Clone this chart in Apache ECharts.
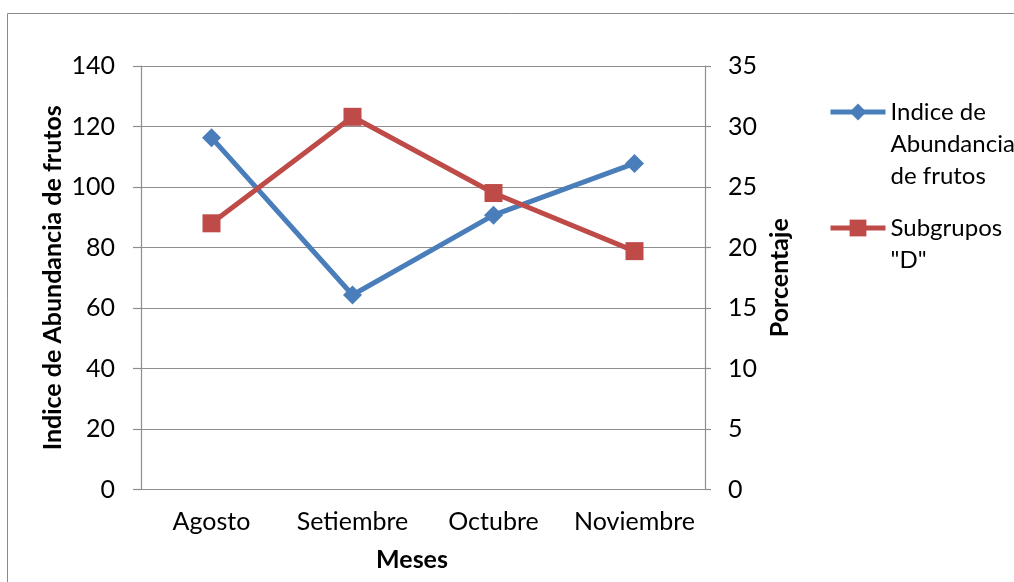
<!DOCTYPE html>
<html>
<head>
<meta charset="utf-8">
<script src="https://cdn.jsdelivr.net/npm/echarts@6/dist/echarts.min.js"></script>
<style>
  html, body { margin: 0; padding: 0; background: #fff; }
  #chart { width: 1014px; height: 582px; }
</style>
</head>
<body>
<div id="chart"></div>
<script>
// Months on the category axis
const meses = ['Agosto', 'Setiembre', 'Octubre', 'Noviembre'];
// Fruit abundance index (left axis)
const indiceAbundancia = [116.3, 64.3, 90.7, 107.8];
// Percentage of subgroup "D" (right axis)
const subgruposD = [22.0, 30.8, 24.5, 19.7];

const nombreIndice = 'Indice de\nAbundancia\nde frutos';
const nombreSubgrupos = 'Subgrupos\n"D"';

const FONT = 'Lato';
const FONT_SIZE = 25;
const GRID_COLOR = '#8e8e8e';
const BLUE = '#4a7ebb';
const RED = '#be4b48';

const chart = echarts.init(document.getElementById('chart'), null, { renderer: 'canvas' });

// Legend entries keep the marker level with the first text line:
// blank lines are prepended so the block's middle line is the first real one.
const alignFirstLine = (name) => {
  const n = name.split('\n').length;
  return '\n'.repeat(n - 1) + name;
};

const legendBase = {
  orient: 'vertical',
  left: 828,
  padding: 0,
  itemWidth: 55,
  itemHeight: 21,
  itemGap: 4,
  formatter: alignFirstLine,
  lineStyle: { width: 5 },
  textStyle: { color: '#000', fontFamily: FONT, fontSize: 24, lineHeight: 32 }
};

const titleStyle = { fontFamily: FONT, fontSize: FONT_SIZE, fontWeight: 'bold', color: '#000' };
const labelStyle = { color: '#000', fontFamily: FONT, fontSize: FONT_SIZE };

chart.setOption({
  animation: false,
  backgroundColor: '#fff',
  textStyle: { fontFamily: FONT },
  graphic: [{
    type: 'rect',
    silent: true,
    shape: { x: 7.5, y: 13.5, width: 1100, height: 700 },
    style: { fill: 'none', stroke: '#8a8a8a', lineWidth: 1 }
  }],
  grid: { left: 141, right: 309, top: 66, bottom: 92.5, containLabel: false },
  legend: [
    Object.assign({}, legendBase, { data: [nombreIndice], top: 32 }),
    Object.assign({}, legendBase, { data: [nombreSubgrupos], top: 180 })
  ],
  xAxis: {
    type: 'category',
    data: meses,
    boundaryGap: true,
    name: 'Meses',
    nameLocation: 'middle',
    nameGap: 58,
    nameMoveOverlap: false,
    nameTextStyle: Object.assign({ padding: [0, 22, 0, 0] }, titleStyle),
    axisLine: { show: true, lineStyle: { color: GRID_COLOR, width: 1.2 } },
    axisTick: { show: false },
    axisLabel: Object.assign({ margin: 20, interval: 0 }, labelStyle)
  },
  yAxis: [{
    type: 'value',
    min: 0,
    max: 140,
    interval: 20,
    position: 'left',
    name: 'Indice de Abundancia de frutos',
    nameLocation: 'middle',
    nameRotate: 90,
    nameGap: 76,
    nameMoveOverlap: false,
    nameTextStyle: titleStyle,
    axisLine: { show: true, lineStyle: { color: GRID_COLOR, width: 1.2 } },
    axisTick: { show: true, length: 8, lineStyle: { color: GRID_COLOR, width: 1.2 } },
    axisLabel: Object.assign({ margin: 26 }, labelStyle),
    splitLine: { show: true, lineStyle: { color: GRID_COLOR, width: 1.2 } }
  }, {
    type: 'value',
    min: 0,
    max: 35,
    interval: 5,
    position: 'right',
    name: 'Porcentaje',
    nameLocation: 'middle',
    nameRotate: 90,
    nameGap: 62,
    nameMoveOverlap: false,
    nameTextStyle: titleStyle,
    axisLine: { show: true, lineStyle: { color: GRID_COLOR, width: 1.2 } },
    axisTick: { show: true, length: 6, lineStyle: { color: GRID_COLOR, width: 1.2 } },
    axisLabel: Object.assign({ margin: 23 }, labelStyle),
    splitLine: { show: false }
  }],
  series: [{
    name: nombreIndice,
    type: 'line',
    yAxisIndex: 0,
    data: indiceAbundancia,
    symbol: 'diamond',
    symbolSize: 19,
    itemStyle: { color: BLUE },
    lineStyle: { color: BLUE, width: 5 },
    z: 3
  }, {
    name: nombreSubgrupos,
    type: 'line',
    yAxisIndex: 1,
    data: subgruposD,
    symbol: 'rect',
    symbolSize: 18,
    itemStyle: { color: RED },
    lineStyle: { color: RED, width: 5 },
    z: 4
  }]
});
</script>
</body>
</html>
